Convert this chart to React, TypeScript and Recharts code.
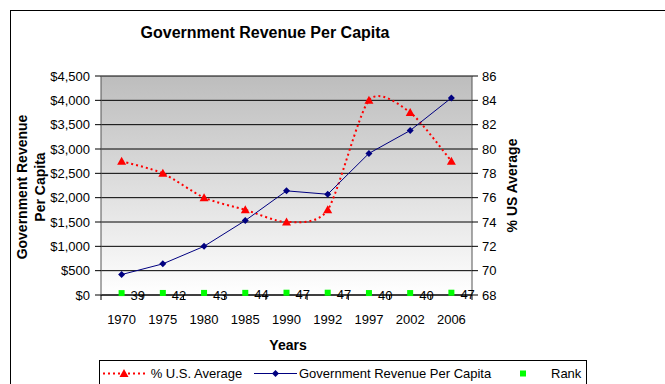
import React from 'react';
import { ComposedChart, Line, XAxis, YAxis, CartesianGrid, Legend, LabelList } from 'recharts';

const years = ['1970', '1975', '1980', '1985', '1990', '1992', '1997', '2002', '2006'];
const revenuePerCapita = [420, 640, 1000, 1530, 2140, 2070, 2910, 3380, 4050];
const pctUsAverage = [79, 78, 76, 75, 74, 75, 84, 83, 79];
const rankValues = [39, 42, 43, 44, 47, 47, 40, 40, 47];
const leftTicks = [0, 500, 1000, 1500, 2000, 2500, 3000, 3500, 4000, 4500];
const rightTicks = [68, 70, 72, 74, 76, 78, 80, 82, 84, 86];

const data = years.map((year, i) => ({
  year,
  revenue: revenuePerCapita[i],
  pct: pctUsAverage[i],
  rank: rankValues[i],
}));

const FONT = '"Liberation Sans", Arial, Helvetica, sans-serif';
const W = 665;
const H = 384;
const MARGIN = { top: 76, right: 133, bottom: 59, left: 10 };
const LEFT_AXIS_W = 91;
const RIGHT_AXIS_W = 60;
const X_AXIS_H = 30;
const PLOT_W = W - MARGIN.left - MARGIN.right - LEFT_AXIS_W - RIGHT_AXIS_W;
const BAND = PLOT_W / years.length;
const SMOOTH = 8;

// Excel-like smoothed line (Catmull-Rom style Bezier)
function smoothCurve(context: any) {
  let pts: number[][] = [];
  return {
    areaStart() {},
    areaEnd() {},
    lineStart() {
      pts = [];
    },
    point(x: number, y: number) {
      pts.push([+x, +y]);
    },
    lineEnd() {
      const n = pts.length;
      if (!n) return;
      context.moveTo(pts[0][0], pts[0][1]);
      for (let i = 0; i < n - 1; i++) {
        const p0 = pts[Math.max(0, i - 1)];
        const p1 = pts[i];
        const p2 = pts[i + 1];
        const p3 = pts[Math.min(n - 1, i + 2)];
        context.bezierCurveTo(
          p1[0] + (p2[0] - p0[0]) / SMOOTH,
          p1[1] + (p2[1] - p0[1]) / SMOOTH,
          p2[0] - (p3[0] - p1[0]) / SMOOTH,
          p2[1] - (p3[1] - p1[1]) / SMOOTH,
          p2[0],
          p2[1]
        );
      }
    },
  };
}

const TriangleDot = (props: any) => {
  const { cx, cy, index } = props;
  if (cx == null || cy == null) return null;
  return (
    <polygon
      key={`tri-${index}`}
      points={`${cx},${cy - 4.5} ${cx + 4.5},${cy + 3.5} ${cx - 4.5},${cy + 3.5}`}
      fill="#ff0000"
    />
  );
};

const DiamondDot = (props: any) => {
  const { cx, cy, index } = props;
  if (cx == null || cy == null) return null;
  return (
    <polygon
      key={`dia-${index}`}
      points={`${cx},${cy - 3.5} ${cx + 3.5},${cy} ${cx},${cy + 3.5} ${cx - 3.5},${cy}`}
      fill="#000080"
    />
  );
};

const SquareDot = (props: any) => {
  const { cx, cy, index } = props;
  if (cx == null || cy == null) return null;
  return <rect key={`sq-${index}`} x={cx - 3} y={cy - 3} width={6} height={6} fill="#00ff00" />;
};

const YearTick = (props: any) => {
  const { x, y, payload, index } = props;
  const last = index === years.length - 1;
  return (
    <g>
      <line x1={x - BAND / 2} x2={x - BAND / 2} y1={y} y2={y + 5} stroke="#000" />
      {last && <line x1={x + BAND / 2} x2={x + BAND / 2} y1={y} y2={y + 5} stroke="#000" />}
      <text x={x} y={y + 29} textAnchor="middle" fontSize={13} fontFamily={FONT} fill="#000">
        {payload.value}
      </text>
    </g>
  );
};

const LeftTitle = (props: any) => {
  const { x, y, height } = props.viewBox;
  const cy = y + height / 2 + 1.5;
  const x1 = x + 12;
  const x2 = x + 30;
  return (
    <g fontFamily={FONT} fontSize={14} fontWeight="bold" fill="#000">
      <text x={x1} y={cy} textAnchor="middle" dominantBaseline="central" transform={`rotate(-90 ${x1} ${cy})`}>
        Government Revenue
      </text>
      <text x={x2} y={cy} textAnchor="middle" dominantBaseline="central" transform={`rotate(-90 ${x2} ${cy})`}>
        Per Capita
      </text>
    </g>
  );
};

const RightTitle = (props: any) => {
  const { x, y, height } = props.viewBox;
  const cy = y + height / 2;
  const cx = x + 40;
  return (
    <text
      x={cx}
      y={cy}
      textAnchor="middle"
      dominantBaseline="central"
      transform={`rotate(-90 ${cx} ${cy})`}
      fontFamily={FONT}
      fontSize={14}
      fontWeight="bold"
      fill="#000"
    >
      % US Average
    </text>
  );
};

const BottomTitle = (props: any) => {
  const { x, y, width } = props.viewBox;
  return (
    <text
      x={x + width / 2 + 1.5}
      y={y + 50}
      textAnchor="middle"
      dominantBaseline="central"
      fontFamily={FONT}
      fontSize={14}
      fontWeight="bold"
      fill="#000"
    >
      Years
    </text>
  );
};

const LegendBox = () => {
  const cy = 13.5;
  const textStyle: React.CSSProperties = {
    position: 'absolute',
    top: cy - 8,
    lineHeight: '16px',
    fontSize: 13,
    fontFamily: FONT,
    color: '#000',
    whiteSpace: 'nowrap',
  };
  return (
    <div style={{ position: 'relative', width: 488, height: 30 }}>
      <svg width={488} height={30} style={{ position: 'absolute', left: 0, top: 0 }}>
        <rect x={0.5} y={0.5} width={487} height={40} fill="#fff" stroke="#000" />
        <line x1={4} x2={46} y1={cy} y2={cy} stroke="#ff0000" strokeWidth={2} strokeDasharray="2 3" />
        <polygon points={`25,${cy - 4.5} 29.5,${cy + 3.5} 20.5,${cy + 3.5}`} fill="#ff0000" />
        <line x1={155} x2={198} y1={cy} y2={cy} stroke="#000080" strokeWidth={1} />
        <polygon points={`176.5,${cy - 3.5} 180,${cy} 176.5,${cy + 3.5} 173,${cy}`} fill="#000080" />
        <rect x={421} y={cy - 3} width={6} height={6} fill="#00ff00" />
      </svg>
      <span style={{ ...textStyle, left: 51.7 }}>% U.S. Average</span>
      <span style={{ ...textStyle, left: 200 }}>Government Revenue Per Capita</span>
      <span style={{ ...textStyle, left: 452 }}>Rank</span>
    </div>
  );
};

export default function App() {
  return (
    <div style={{ position: 'absolute', left: 0, top: 0, width: W, height: H, overflow: 'hidden', background: '#fff' }}>
      <div
        style={{
          position: 'absolute',
          left: 10,
          top: 10,
          width: 700,
          height: 420,
          border: '1px solid #000',
          boxSizing: 'border-box',
        }}
      />
      <div
        style={{
          position: 'absolute',
          left: 65,
          top: 24,
          width: 400,
          textAlign: 'center',
          fontFamily: FONT,
          fontWeight: 'bold',
          fontSize: 16,
          lineHeight: '18px',
          color: '#000',
        }}
      >
        Government Revenue Per Capita
      </div>
      <div style={{ position: 'absolute', left: 0, top: 0 }}>
        <ComposedChart width={W} height={H} data={data} margin={MARGIN}>
          <defs>
            <linearGradient id="plotBg" x1="0" y1="0" x2="0" y2="1">
              <stop offset="0%" stopColor="#bdbdbd" />
              <stop offset="100%" stopColor="#ffffff" />
            </linearGradient>
          </defs>
          <CartesianGrid yAxisId="left" vertical={false} stroke="#000" fill="url(#plotBg)" fillOpacity={1} />
          <XAxis
            dataKey="year"
            height={X_AXIS_H}
            padding={{ left: BAND / 2, right: BAND / 2 }}
            tickLine={false}
            tickSize={0}
            tickMargin={0}
            axisLine={{ stroke: '#000' }}
            tick={<YearTick />}
            interval={0}
            label={{ content: (p: any) => <BottomTitle {...p} /> }}
          />
          <YAxis
            yAxisId="left"
            width={LEFT_AXIS_W}
            domain={[0, 4500]}
            ticks={leftTicks}
            interval={0}
            tickFormatter={(v: number) => '$' + v.toLocaleString('en-US')}
            tick={{ fontSize: 13, fontFamily: FONT, fill: '#000' }}
            tickSize={6}
            tickMargin={5}
            tickLine={{ stroke: '#000' }}
            axisLine={{ stroke: '#555' }}
            label={{ content: (p: any) => <LeftTitle {...p} /> }}
          />
          <YAxis
            yAxisId="right"
            orientation="right"
            width={RIGHT_AXIS_W}
            domain={[68, 86]}
            ticks={rightTicks}
            interval={0}
            tick={{ fontSize: 13, fontFamily: FONT, fill: '#000' }}
            tickSize={6}
            tickMargin={4}
            tickLine={{ stroke: '#000' }}
            axisLine={{ stroke: '#555' }}
            label={{ content: (p: any) => <RightTitle {...p} /> }}
          />
          <Line
            yAxisId="right"
            dataKey="pct"
            name="% U.S. Average"
            type={smoothCurve as any}
            stroke="#ff0000"
            strokeWidth={2}
            strokeDasharray="2 3"
            dot={TriangleDot}
            activeDot={false}
            isAnimationActive={false}
          />
          <Line
            yAxisId="left"
            dataKey="revenue"
            name="Government Revenue Per Capita"
            type="linear"
            stroke="#000080"
            strokeWidth={1}
            dot={DiamondDot}
            activeDot={false}
            isAnimationActive={false}
          />
          <Line
            yAxisId="left"
            dataKey="rank"
            name="Rank"
            type="linear"
            stroke="none"
            dot={SquareDot}
            activeDot={false}
            isAnimationActive={false}
          >
            <LabelList dataKey="rank" position="right" offset={9} fontSize={13} fontFamily={FONT} fill="#000" dy={2} />
          </Line>
          <Legend
            layout="horizontal"
            verticalAlign="middle"
            align="center"
            wrapperStyle={{ left: 99, top: 360, width: 488, height: 30 }}
            content={() => <LegendBox />}
          />
        </ComposedChart>
      </div>
    </div>
  );
}
